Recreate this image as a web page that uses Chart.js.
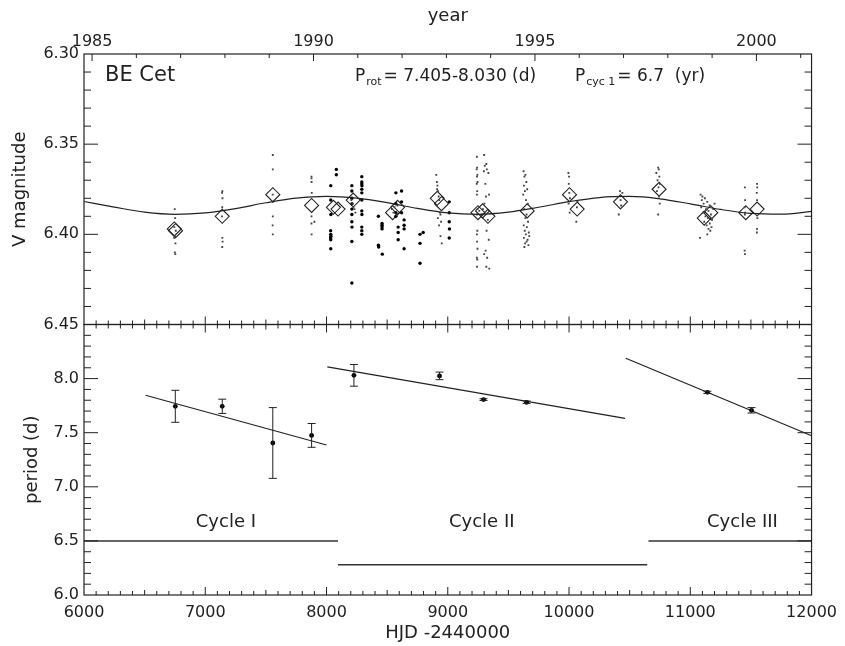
<!DOCTYPE html>
<html>
<head>
<meta charset="utf-8">
<title>BE Cet</title>
<script src="https://cdn.jsdelivr.net/npm/chart.js@4.4.1/dist/chart.umd.min.js"></script>
<style>
  html, body { margin: 0; padding: 0; background: #fff; }
  #wrap { width: 845px; height: 646px; }
</style>
</head>
<body>
<div id="wrap"><canvas id="grafico"></canvas></div>
<script>
// ---- dados ----
const hjdTicks = [6000, 7000, 8000, 9000, 10000, 11000, 12000];
const yearTicks = [1985, 1990, 1995, 2000];
const magTicks = [6.30, 6.35, 6.40, 6.45];
const periodTicks = [6.0, 6.5, 7.0, 7.5, 8.0];

// curva ajustada (ciclo de 6.7 anos), lida a cada 250 dias
const fitHjd = [6000, 6250, 6500, 6750, 7000, 7250, 7500, 7750, 8000, 8250, 8500, 8750, 9000,
  9250, 9500, 9750, 10000, 10250, 10500, 10750, 11000, 11250, 11500, 11750, 12000];
const fitMag = [6.3818, 6.3849, 6.3877, 6.3889, 6.3881, 6.3857, 6.3825, 6.3799, 6.3789, 6.3799, 6.3824, 6.3856, 6.3881,
  6.3889, 6.3877, 6.3850, 6.3819, 6.3796, 6.3790, 6.3803, 6.3831, 6.3862, 6.3884, 6.3888, 6.3873];

// medias sazonais (losangos)
const meanHjd = [6745, 6755, 7140, 7557, 7877, 8057, 8095, 8220, 8545, 8586, 8913, 8948,
  9249, 9287, 9331, 9655, 10004, 10067, 10424, 10743, 11115, 11169, 11458, 11551];
const meanMag = [6.397, 6.398, 6.390, 6.378, 6.384, 6.385, 6.386, 6.381, 6.388, 6.385, 6.380, 6.383,
  6.388, 6.387, 6.390, 6.387, 6.378, 6.386, 6.382, 6.375, 6.391, 6.388, 6.388, 6.386];

// fotometria individual (pontos pequenos)
const smallDots = [
  [6748,6.386],[6752,6.391],[6745,6.396],[6757,6.398],[6750,6.401],[6744,6.402],[6754,6.405],[6749,6.410],[6753,6.411],
  [7141,6.376],[7139,6.377],[7142,6.380],[7140,6.385],[7138,6.390],[7141,6.402],[7143,6.404],[7140,6.407],
  [7557,6.356],[7557,6.364],[7556,6.378],[7558,6.382],[7557,6.390],[7556,6.395],[7557,6.400],
  [7876,6.368],[7876,6.369],[7877,6.371],[7878,6.377],[7876,6.390],[7900,6.393],[7876,6.394],[7877,6.400],
  [8205,6.381],[8212,6.383],[8230,6.386],[8238,6.388],[8222,6.385],
  [8540,6.386],[8552,6.388],[8560,6.385],[8585,6.384],[8578,6.389],
  [8905,6.367],[8910,6.371],[8915,6.373],[8912,6.375],[8920,6.376],[8925,6.379],[8930,6.381],[8908,6.384],
  [8935,6.388],[8940,6.389],[8918,6.391],[8945,6.393],[8928,6.395],[8940,6.401],[8950,6.405],
  [9240,6.357],[9242,6.363],[9238,6.364],[9244,6.367],[9241,6.368],[9245,6.371],[9239,6.372],[9243,6.376],
  [9240,6.378],[9246,6.386],[9241,6.389],[9244,6.398],[9240,6.400],[9242,6.404],[9245,6.408],[9240,6.413],
  [9243,6.414],[9241,6.418],[9300,6.356],[9318,6.361],[9305,6.362],[9322,6.364],[9298,6.365],[9335,6.366],
  [9310,6.372],[9340,6.378],[9315,6.379],[9302,6.383],[9330,6.392],[9320,6.398],[9338,6.403],[9312,6.409],
  [9300,6.411],[9325,6.413],[9318,6.418],[9342,6.419],[9260,6.387],[9280,6.389],[9290,6.386],
  [9625,6.365],[9640,6.367],[9632,6.368],[9648,6.371],[9628,6.373],[9655,6.375],[9636,6.376],[9622,6.378],
  [9645,6.381],[9660,6.383],[9630,6.386],[9650,6.389],[9640,6.391],[9662,6.393],[9626,6.395],[9652,6.396],
  [9635,6.398],[9668,6.399],[9644,6.400],[9628,6.402],[9658,6.403],[9638,6.405],[9665,6.406],[9632,6.407],
  [9650,6.404],[9672,6.401],
  [9995,6.366],[10000,6.368],[9998,6.372],[10002,6.377],[10008,6.380],[9996,6.383],[10005,6.388],
  [10060,6.393],[10065,6.385],[10070,6.382],
  [10420,6.376],[10440,6.377],[10425,6.381],[10430,6.384],[10410,6.389],
  [10735,6.363],[10740,6.364],[10720,6.366],[10745,6.368],[10730,6.370],[10750,6.372],[10738,6.374],
  [10725,6.376],[10742,6.379],[10748,6.383],[10735,6.389],
  [11085,6.378],[11100,6.379],[11120,6.380],[11095,6.381],[11140,6.382],[11110,6.383],[11160,6.384],
  [11090,6.385],[11130,6.386],[11150,6.387],[11105,6.388],[11170,6.389],[11125,6.390],[11145,6.391],
  [11180,6.392],[11115,6.393],[11160,6.394],[11135,6.395],[11175,6.396],[11150,6.397],[11165,6.398],
  [11080,6.402],[11140,6.400],[11190,6.386],[11200,6.383],
  [11450,6.374],[11452,6.381],[11449,6.385],[11451,6.388],[11450,6.389],[11448,6.409],[11451,6.411],
  [11550,6.372],[11552,6.374],[11548,6.377],[11551,6.381],[11553,6.391],[11550,6.397],[11549,6.399]
];

// fotometria de outra fonte (pontos pretos maiores)
const blackDots = [
  [8035,6.373],[8035,6.381],[8036,6.389],[8034,6.398],[8035,6.400],[8036,6.401],[8034,6.402],[8035,6.403],
  [8035,6.408],[8081,6.364],[8081,6.367],
  [8209,6.373],[8209,6.376],[8209,6.380],[8210,6.383],[8209,6.386],[8209,6.389],[8209,6.393],[8210,6.396],
  [8209,6.404],[8209,6.427],
  [8291,6.368],[8291,6.371],[8291,6.372],[8292,6.373],[8291,6.375],[8291,6.377],[8291,6.381],[8291,6.387],
  [8292,6.389],[8291,6.396],[8291,6.398],[8291,6.400],
  [8428,6.390],[8428,6.406],[8430,6.407],[8458,6.394],[8458,6.395],[8458,6.396],[8458,6.397],[8460,6.411],
  [8572,6.377],[8572,6.383],[8572,6.388],[8572,6.390],[8591,6.396],[8591,6.399],[8591,6.403],
  [8619,6.376],[8619,6.382],[8619,6.388],[8640,6.392],[8640,6.395],[8640,6.397],[8640,6.408],
  [8771,6.400],[8771,6.405],[8771,6.416],[8797,6.399],
  [9012,6.382],[9012,6.388],[9012,6.393],[9014,6.397],[9012,6.402]
];

// periodo de rotacao por temporada
const periodHjd = [6753, 7140, 7557, 7877, 8226, 8932, 9295, 9650, 11141, 11505];
const periodVal = [7.744, 7.744, 7.405, 7.475, 8.030, 8.025, 7.806, 7.781, 7.873, 7.707];
const periodErr = [0.148, 0.066, 0.327, 0.110, 0.100, 0.035, 0.008, 0.012, 0.010, 0.025];

// ajustes lineares de cada ciclo
const fitIHjd = [6507, 8000],   fitIPer = [7.846, 7.386];
const fitIIHjd = [8007, 10462], fitIIPer = [8.108, 7.633];
const fitIIIHjd = [10468, 12000], fitIIIPer = [8.188, 7.472];

// barras dos ciclos
const cycleNames = ['Cycle I', 'Cycle II', 'Cycle III'];
const cycleStart = [6000, 8095, 10655];
const cycleEnd = [8095, 10645, 12000];
const cycleLevel = [6.5, 6.28, 6.5];
const cycleLabelHjd = [7170, 9280, 11430];
const cycleLabelPer = 6.675;

// conversao HJD -> ano (eixo superior)
const yearMin = 1985 + (6000 - 6066.5) / 365.25;
const yearMax = 1985 + (12000 - 6066.5) / 365.25;

const FONT = '"DejaVu Sans", sans-serif';
const INK = '#222';

const toPts = (xs, ys) => xs.map((v, i) => ({ x: v, y: ys[i] }));
const pairPts = arr => arr.map(p => ({ x: p[0], y: p[1] }));

// molduras, marcas internas, barras de erro e textos
const panelDecor = {
  id: 'panelDecor',
  afterDatasetsDraw(chart) {
    const { ctx, scales } = chart;
    const x = scales.x, yr = scales.xYear, yM = scales.yMag, yP = scales.yPer;
    ctx.save();
    ctx.strokeStyle = INK;
    ctx.fillStyle = INK;
    ctx.lineWidth = 1.2;

    // molduras
    [yM, yP].forEach(s => {
      ctx.strokeRect(x.left, s.top, x.right - x.left, s.bottom - s.top);
    });

    const seg = (x1, y1, x2, y2) => { ctx.beginPath(); ctx.moveTo(x1, y1); ctx.lineTo(x2, y2); ctx.stroke(); };
    ctx.lineWidth = 1;

    // marcas verticais (magnitude: 0.01, periodo: 0.1)
    for (let i = 1; i < 15; i++) {
      const py = yM.getPixelForValue(6.30 + i * 0.01);
      const len = i % 5 === 0 ? 14 : 7;
      seg(x.left, py, x.left + len, py);
      seg(x.right, py, x.right - len, py);
    }
    for (let i = 1; i < 25; i++) {
      const py = yP.getPixelForValue(6.0 + i * 0.1);
      const len = i % 5 === 0 ? 14 : 7;
      seg(x.left, py, x.left + len, py);
      seg(x.right, py, x.right - len, py);
    }
    // marcas em HJD
    for (let h = 6100; h < 12000; h += 100) {
      const px = x.getPixelForValue(h);
      const len = h % 1000 === 0 ? 8 : (h % 500 === 0 ? 5 : 4);
      seg(px, yP.bottom, px, yP.bottom - len);
      seg(px, yP.top, px, yP.top + len);
      seg(px, yM.bottom, px, yM.bottom - len);
    }
    // marcas em anos
    for (let a = 1985; a <= 2001; a++) {
      const px = yr.getPixelForValue(a);
      const len = a % 5 === 0 ? 7 : 4;
      seg(px, yM.top, px, yM.top + len);
    }

    // barras de erro do periodo
    periodHjd.forEach((h, i) => {
      const px = x.getPixelForValue(h);
      const top = yP.getPixelForValue(periodVal[i] + periodErr[i]);
      const bot = yP.getPixelForValue(periodVal[i] - periodErr[i]);
      seg(px, top, px, bot);
      seg(px - 4, top, px + 4, top);
      seg(px - 4, bot, px + 4, bot);
    });

    // rotulos dos ciclos
    ctx.font = '18px ' + FONT;
    ctx.textAlign = 'center';
    ctx.textBaseline = 'middle';
    cycleNames.forEach((n, i) => {
      ctx.fillText(n, x.getPixelForValue(cycleLabelHjd[i]), yP.getPixelForValue(cycleLabelPer));
    });

    // textos do painel superior
    ctx.textAlign = 'left';
    ctx.textBaseline = 'alphabetic';
    const base = yM.top + 27;
    ctx.font = '21px ' + FONT;
    ctx.fillText('BE Cet', x.left + 21, base);

    const withSub = (px, main, sub, rest) => {
      ctx.font = '17px ' + FONT;
      ctx.fillText(main, px, base);
      px += ctx.measureText(main).width + 1;
      ctx.font = '11px ' + FONT;
      ctx.fillText(sub, px, base + 4);
      px += ctx.measureText(sub).width + 2;
      ctx.font = '17px ' + FONT;
      ctx.fillText(rest, px, base);
    };
    withSub(x.left + 271, 'P', 'rot', '= 7.405-8.030 (d)');
    withSub(x.left + 491, 'P', 'cyc 1', '= 6.7  (yr)');

    ctx.restore();
  }
};

const tickFont = { family: FONT, size: 16 };
const titleFont = { family: FONT, size: 18 };

new Chart(document.getElementById('grafico').getContext('2d'), {
  type: 'scatter',
  data: {
    datasets: [
      { // curva senoidal
        data: toPts(fitHjd, fitMag), yAxisID: 'yMag', showLine: true,
        borderColor: INK, borderWidth: 1.2, pointRadius: 0, cubicInterpolationMode: 'monotone'
      },
      { // pontos pequenos
        data: pairPts(smallDots), yAxisID: 'yMag',
        pointStyle: 'rect', pointRadius: 1.3, backgroundColor: '#444', borderWidth: 0
      },
      { // pontos pretos
        data: pairPts(blackDots), yAxisID: 'yMag',
        pointRadius: 1.7, backgroundColor: '#000', borderWidth: 0
      },
      { // medias
        data: toPts(meanHjd, meanMag), yAxisID: 'yMag',
        pointStyle: 'rectRot', pointRadius: 7, backgroundColor: 'rgba(0,0,0,0)',
        borderColor: INK, borderWidth: 1.1
      },
      { // periodos
        data: toPts(periodHjd, periodVal), yAxisID: 'yPer',
        pointRadius: 2.4, backgroundColor: '#000', borderWidth: 0
      },
      { data: toPts(fitIHjd, fitIPer), yAxisID: 'yPer', showLine: true, borderColor: INK, borderWidth: 1.2, pointRadius: 0 },
      { data: toPts(fitIIHjd, fitIIPer), yAxisID: 'yPer', showLine: true, borderColor: INK, borderWidth: 1.2, pointRadius: 0 },
      { data: toPts(fitIIIHjd, fitIIIPer), yAxisID: 'yPer', showLine: true, borderColor: INK, borderWidth: 1.2, pointRadius: 0 },
      ...cycleNames.map((n, i) => ({
        data: [{ x: cycleStart[i], y: cycleLevel[i] }, { x: cycleEnd[i], y: cycleLevel[i] }],
        yAxisID: 'yPer', showLine: true, borderColor: '#333', borderWidth: 1.5, pointRadius: 0
      }))
    ]
  },
  options: {
    responsive: true,
    maintainAspectRatio: false,
    animation: false,
    devicePixelRatio: 1,
    layout: { padding: { left: 0, right: 28, top: 0, bottom: 0 } },
    plugins: { legend: { display: false }, tooltip: { enabled: false } },
    scales: {
      x: {
        type: 'linear', position: 'bottom', min: 6000, max: 12000,
        afterBuildTicks: s => { s.ticks = hjdTicks.map(v => ({ value: v })); },
        ticks: { font: tickFont, color: INK, padding: 8, maxRotation: 0, autoSkip: false, callback: v => String(v) },
        grid: { display: false, drawTicks: false }, border: { display: false },
        title: { display: true, text: 'HJD -2440000', font: titleFont, color: INK, padding: { top: 0, bottom: 2 } },
        afterFit: s => { s.height = 51; }
      },
      xYear: {
        type: 'linear', position: 'top', min: yearMin, max: yearMax,
        afterBuildTicks: s => { s.ticks = yearTicks.map(v => ({ value: v })); },
        ticks: { font: tickFont, color: INK, padding: 3, maxRotation: 0, autoSkip: false, callback: v => String(v) },
        grid: { display: false, drawTicks: false }, border: { display: false },
        title: { display: true, text: 'year', font: titleFont, color: INK, padding: { top: 6, bottom: 0 } },
        afterFit: s => { s.height = 54; }
      },
      yPer: {
        type: 'linear', position: 'left', stack: 'panels', stackWeight: 1, min: 6.0, max: 8.5,
        afterBuildTicks: s => { s.ticks = periodTicks.map(v => ({ value: v })); },
        ticks: { font: tickFont, color: INK, padding: 5, autoSkip: false, callback: v => v.toFixed(1) },
        grid: { display: false, drawTicks: false }, border: { display: false },
        title: { display: true, text: 'period (d)', font: titleFont, color: INK, padding: { top: 22, bottom: 0 } },
        afterFit: s => { s.width = 84; }
      },
      yMag: {
        type: 'linear', position: 'left', stack: 'panels', stackWeight: 1, min: 6.30, max: 6.45, reverse: true,
        afterBuildTicks: s => { s.ticks = magTicks.map(v => ({ value: v })); },
        ticks: { font: tickFont, color: INK, padding: 5, autoSkip: false, callback: v => v.toFixed(2) },
        grid: { display: false, drawTicks: false }, border: { display: false },
        title: { display: true, text: 'V magnitude', font: titleFont, color: INK, padding: { top: 10, bottom: 0 } },
        afterFit: s => { s.width = 84; }
      }
    }
  },
  plugins: [panelDecor]
});
</script>
</body>
</html>
